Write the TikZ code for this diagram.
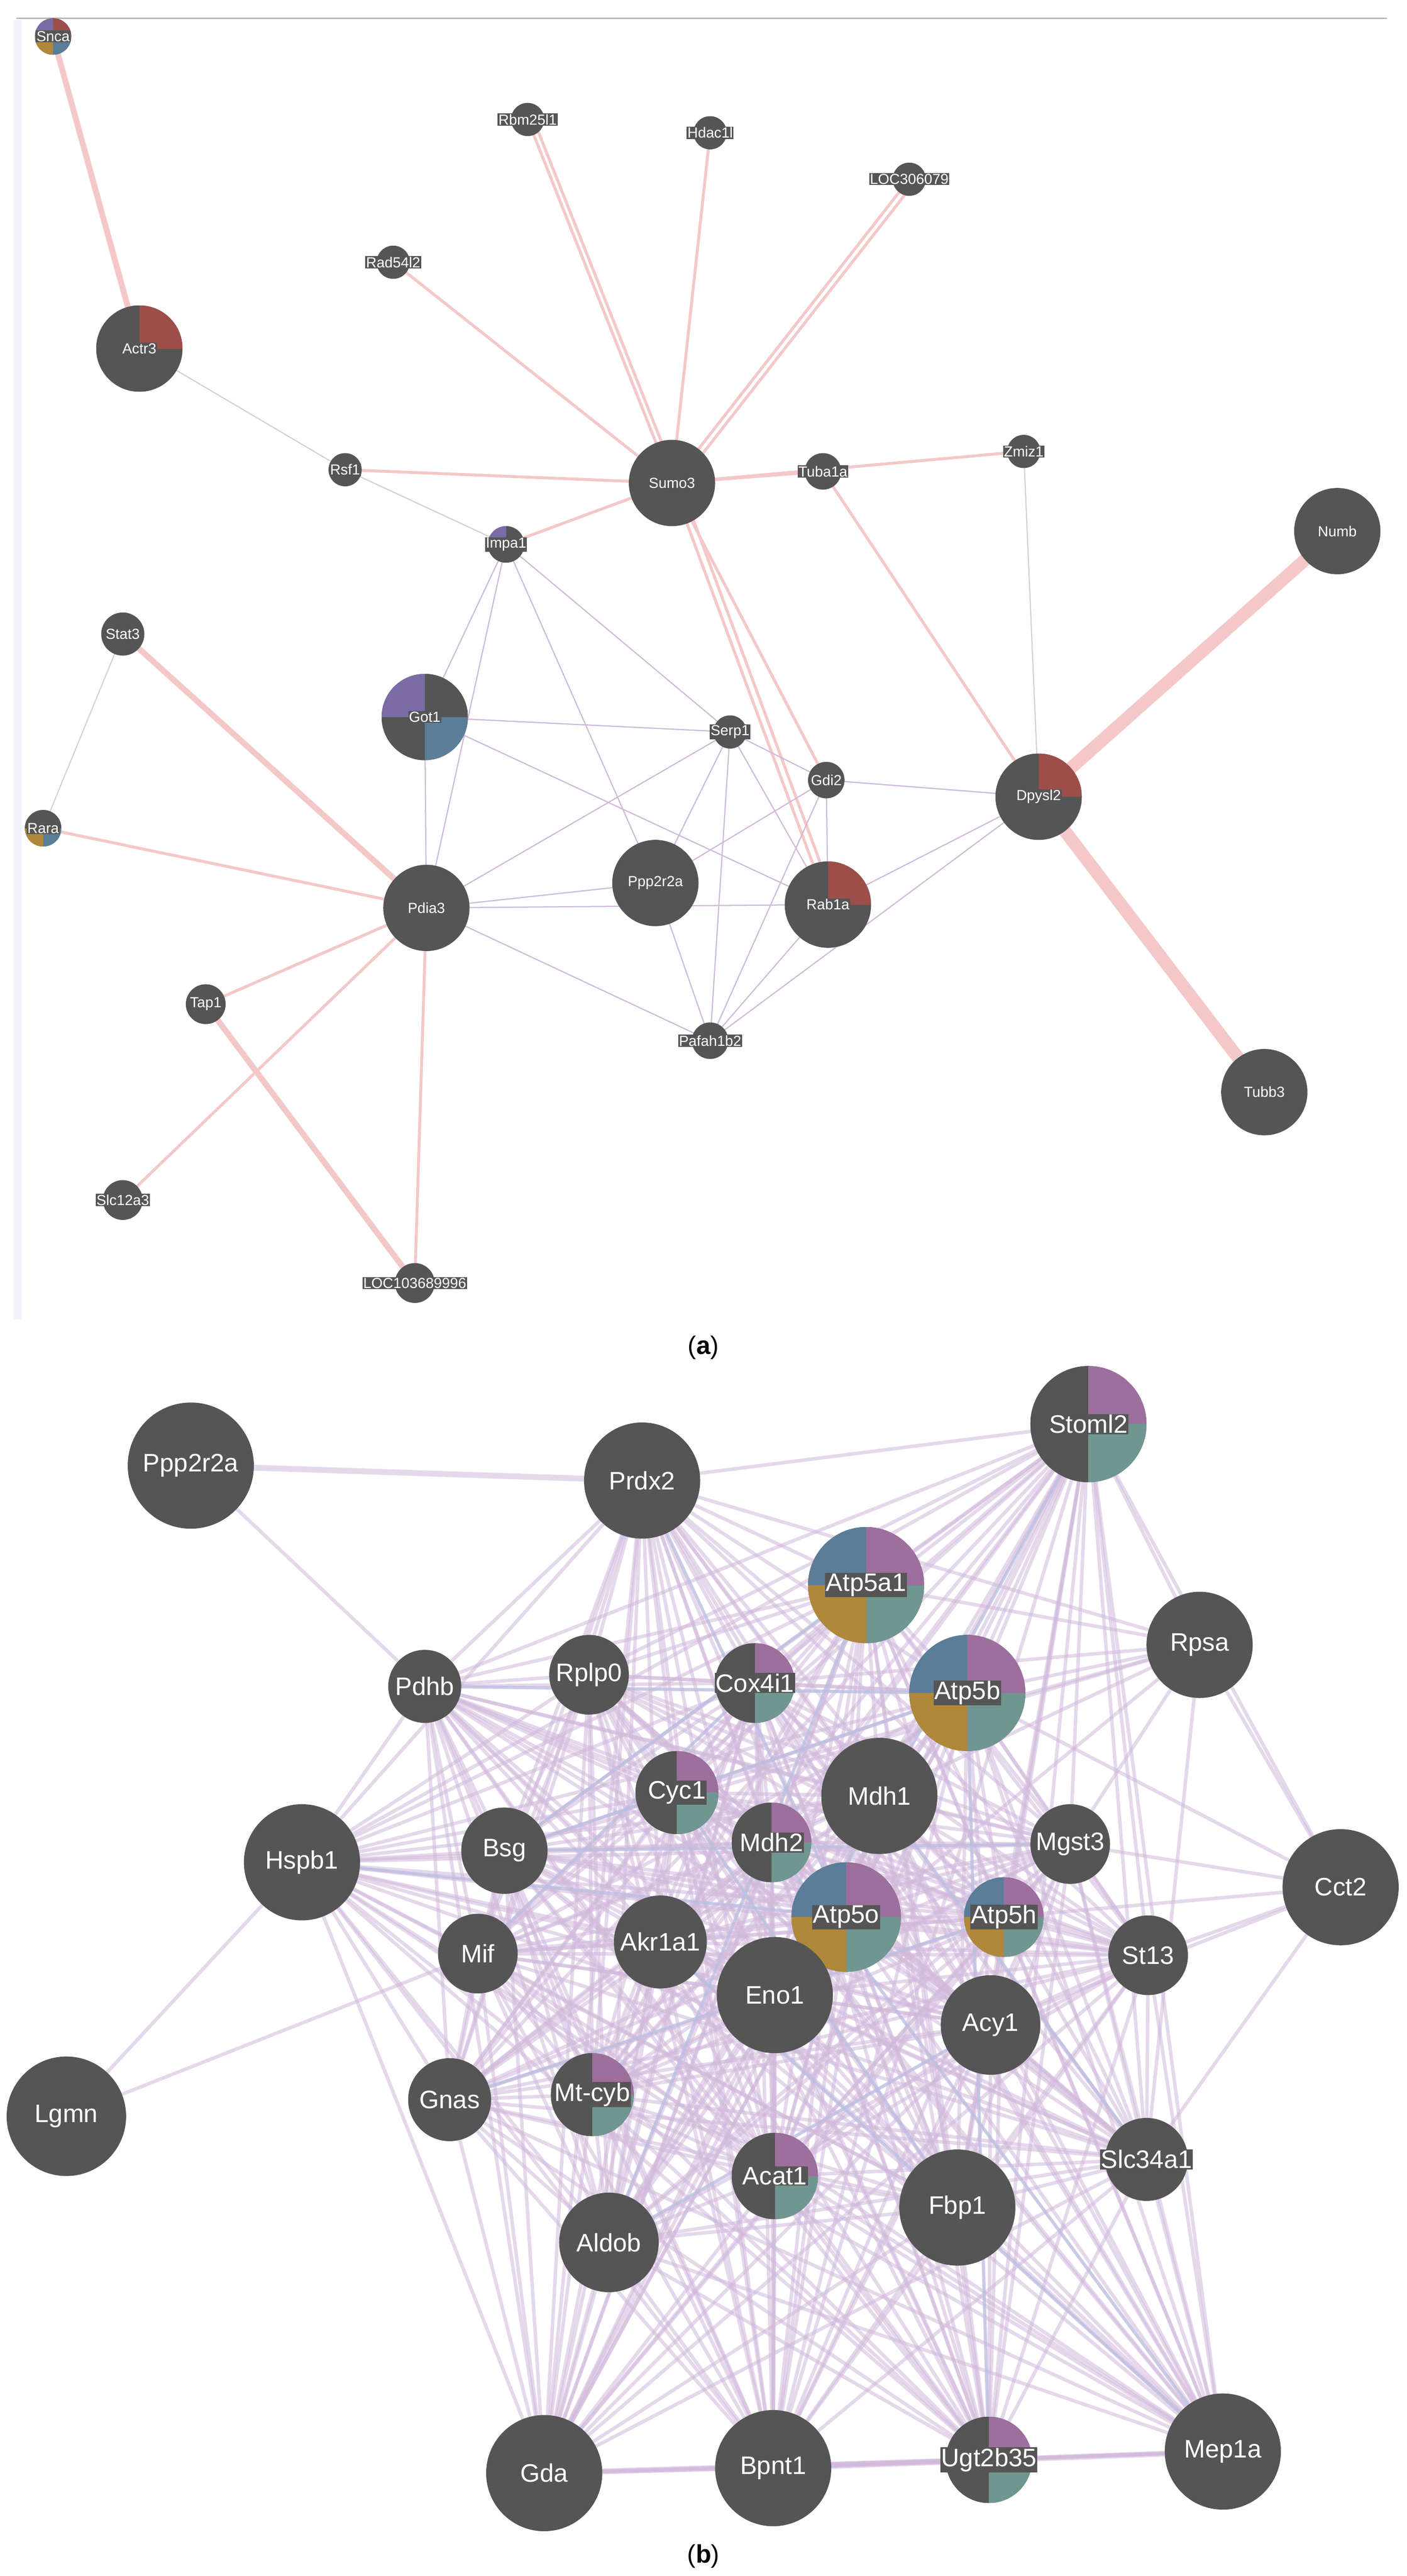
\documentclass[tikz,border=0pt]{standalone}
\usepackage{fontspec}
\setmainfont{Liberation Sans}
\pgfdeclarelayer{bg}
\pgfsetlayers{bg,main}
\definecolor{dk}{HTML}{555555}
\definecolor{rb}{HTML}{9E4E4A}
\definecolor{pu}{HTML}{9C6F9C}
\definecolor{te}{HTML}{6F9690}
\definecolor{bl}{HTML}{5A7D99}
\definecolor{go}{HTML}{B0883A}
\definecolor{vi}{HTML}{7B6BA6}
\definecolor{pk}{HTML}{F4C8C8}
\definecolor{lv}{HTML}{D0B8DA}
\definecolor{lb}{HTML}{B4C2E4}
\setlength{\fboxsep}{0.4pt}
\begin{document}
\begin{tikzpicture}[x=0.03cm,y=-0.03cm,
 g/.style={circle,fill=dk,minimum size=#1*0.6mm,inner sep=0,text=white,
   execute at begin node={\setbox0=\hbox\bgroup},
   execute at end node={\egroup\hbox to 0pt{\hss\colorbox{dk}{\box0}\hss}}},
 sa/.style={font=\fontsize{7.5}{8}\selectfont},
 sb/.style={font=\fontsize{13}{14}\selectfont},
 pie/.style n args={4}{path picture={
   \fill[#1] (path picture bounding box.center) rectangle (path picture bounding box.north east);
   \fill[#2] (path picture bounding box.center) rectangle (path picture bounding box.south east);
   \fill[#3] (path picture bounding box.center) rectangle (path picture bounding box.south west);
   \fill[#4] (path picture bounding box.center) rectangle (path picture bounding box.north west);}},
 pk1/.style={draw=pk,line width=1.5pt},
 pk2/.style={draw=pk,line width=3pt},
 pk3/.style={draw=pk,line width=6.5pt},
 gl/.style={draw=gray!35,line width=0.6pt},
 lv1/.style={draw=lv,line width=0.6pt},
 eb/.style={draw=lv,line width=1.8pt,draw opacity=0.55},
 ebb/.style={draw=lb,line width=1.4pt,draw opacity=0.6}]
\useasboundingbox (0,0) rectangle (848,1552);
\draw[gray!55,line width=0.8pt] (10,11) -- (836,11);
\fill[blue!5] (8,12) rectangle (13,795);
% ---------- panel a nodes
\node[g=11,sa,pie={rb}{bl}{go}{vi}] (Snca) at (32,22) {Snca};
\node[g=10,sa] (Rbm) at (318,72) {Rbm25l1};
\node[g=10,sa] (Hdac) at (428,80) {Hdac1l};
\node[g=10,sa] (LOCa) at (548,108) {LOC306079};
\node[g=10,sa] (Rad) at (237,158) {Rad54l2};
\node[g=26,sa,pie={rb}{dk}{dk}{dk}] (Actr3) at (84,210) {Actr3};
\node[g=10,sa] (Rsf1) at (208,283) {Rsf1};
\node[g=26,sa] (Sumo3) at (405,291) {Sumo3};
\node[g=11,sa] (Tuba) at (496,284) {Tuba1a};
\node[g=10,sa] (Zmiz) at (617,272) {Zmiz1};
\node[g=26,sa] (Numb) at (806,320) {Numb};
\node[g=11,sa,pie={dk}{dk}{dk}{vi}] (Impa) at (305,328) {Impa1};
\node[g=13,sa] (Stat3) at (74,382) {Stat3};
\node[g=26,sa,pie={dk}{bl}{dk}{vi}] (Got1) at (256,432) {Got1};
\node[g=10,sa] (Serp) at (440,441) {Serp1};
\node[g=11,sa] (Gdi2) at (498,470) {Gdi2};
\node[g=26,sa,pie={rb}{dk}{dk}{dk}] (Dpy) at (626,480) {Dpysl2};
\node[g=11,sa,pie={dk}{bl}{go}{dk}] (Rara) at (26,499) {Rara};
\node[g=26,sa] (PppA) at (395,532) {Ppp2r2a};
\node[g=26,sa] (Pdia3) at (257,547) {Pdia3};
\node[g=26,sa,pie={rb}{dk}{dk}{dk}] (Rab1a) at (499,545) {Rab1a};
\node[g=12,sa] (Tap1) at (124,605) {Tap1};
\node[g=11,sa] (Pafah) at (428,627) {Pafah1b2};
\node[g=26,sa] (Tubb3) at (762,658) {Tubb3};
\node[g=12,sa] (Slc12) at (74,723) {Slc12a3};
\node[g=12,sa] (LOCb) at (250,773) {LOC103689996};
\node[font=\fontsize{13}{14}\selectfont] (la) at (424,812) {(\textbf{a})};
\begin{pgfonlayer}{bg}
\draw[pk2] (Snca.center) -- (Actr3.center);
\foreach \n in {Rbm,Hdac,LOCa,Rad,Rsf1,Tuba,Zmiz,Impa,Rab1a,Gdi2}
  \draw[pk1] (Sumo3.center) -- (\n.center);
\draw[pk1] ([xshift=3]Sumo3.center) -- ([xshift=3]Rbm.center);
\draw[pk1] ([xshift=4]Sumo3.center) -- ([xshift=4]LOCa.center);
\draw[pk1] ([xshift=4]Sumo3.center) -- ([xshift=4]Rab1a.center);
\draw[pk1] (Tuba.center) -- (Dpy.center);
\draw[pk3] (Dpy.center) -- (Numb.center);
\draw[pk3] (Dpy.center) -- (Tubb3.center);
\draw[pk2] (Stat3.center) -- (Pdia3.center);
\draw[pk1] (Rara.center) -- (Pdia3.center);
\draw[pk1] (Pdia3.center) -- (Tap1.center);
\draw[pk1] (Pdia3.center) -- (Slc12.center);
\draw[pk1] (Pdia3.center) -- (LOCb.center);
\draw[pk2] (Tap1.center) -- (LOCb.center);
\draw[gl] (Actr3.center) -- (Rsf1.center);
\draw[gl] (Stat3.center) -- (Rara.center);
\draw[gl] (Zmiz.center) -- (Dpy.center);
\draw[gl] (Rsf1.center) -- (Impa.center);
\foreach \a/\b in {Impa/Got1,Impa/Pdia3,Impa/PppA,Impa/Serp,Got1/Serp,Got1/Pdia3,Got1/Rab1a,
  Pdia3/PppA,Pdia3/Rab1a,Pdia3/Pafah,Serp/Rab1a,Serp/Pafah,Gdi2/Pafah,Gdi2/Dpy,Gdi2/Rab1a,
  PppA/Pafah,Rab1a/Pafah,Dpy/Pafah,Dpy/Rab1a,Serp/PppA,Serp/Gdi2,Gdi2/PppA,Pdia3/Serp}
  \draw[lv1] (\a.center) -- (\b.center);
\end{pgfonlayer}
% ---------- panel b nodes
\node[g=38,sb] (bPpp) at (115,883) {Ppp2r2a};
\node[g=35,sb] (Prdx2) at (387,892) {Prdx2};
\node[g=35,sb,pie={pu}{te}{dk}{dk}] (Stoml2) at (656,858) {Stoml2};
\node[g=35,sb,pie={pu}{te}{go}{bl}] (Atp5a1) at (522,955) {Atp5a1};
\node[g=32,sb] (Rpsa) at (723,991) {Rpsa};
\node[g=22,sb] (Pdhb) at (256,1016) {Pdhb};
\node[g=24,sb] (Rplp0) at (355,1009) {Rplp0};
\node[g=24,sb,pie={pu}{te}{dk}{dk}] (Cox4i1) at (455,1014) {Cox4i1};
\node[g=35,sb,pie={pu}{te}{go}{bl}] (Atp5b) at (583,1020) {Atp5b};
\node[g=25,sb,pie={pu}{te}{dk}{dk}] (Cyc1) at (408,1080) {Cyc1};
\node[g=35,sb] (Mdh1) at (530,1082) {Mdh1};
\node[g=35,sb] (Hspb1) at (182,1122) {Hspb1};
\node[g=26,sb] (Bsg) at (304,1115) {Bsg};
\node[g=24,sb,pie={pu}{te}{dk}{dk}] (Mdh2) at (465,1110) {Mdh2};
\node[g=24,sb] (Mgst3) at (645,1111) {Mgst3};
\node[g=35,sb] (Cct2) at (808,1137) {Cct2};
\node[g=33,sb,pie={pu}{te}{go}{bl}] (Atp5o) at (510,1155) {Atp5o};
\node[g=24,sb,pie={pu}{te}{go}{bl}] (Atp5h) at (605,1155) {Atp5h};
\node[g=28,sb] (Akr1a1) at (398,1170) {Akr1a1};
\node[g=24,sb] (Mif) at (288,1177) {Mif};
\node[g=35,sb] (Eno1) at (467,1202) {Eno1};
\node[g=24,sb] (St13) at (692,1178) {St13};
\node[g=30,sb] (Acy1) at (597,1220) {Acy1};
\node[g=36,sb] (Lgmn) at (40,1275) {Lgmn};
\node[g=25,sb,pie={pu}{te}{dk}{dk}] (Mtcyb) at (357,1262) {Mt-cyb};
\node[g=25,sb] (Gnas) at (271,1265) {Gnas};
\node[g=25,sb] (Slc34a1) at (691,1301) {Slc34a1};
\node[g=26,sb,pie={pu}{te}{dk}{dk}] (Acat1) at (467,1311) {Acat1};
\node[g=35,sb] (Fbp1) at (577,1330) {Fbp1};
\node[g=30,sb] (Aldob) at (367,1351) {Aldob};
\node[g=35,sb] (Gda) at (328,1490) {Gda};
\node[g=35,sb] (Bpnt1) at (466,1487) {Bpnt1};
\node[g=26,sb,pie={pu}{te}{dk}{dk}] (Ugt) at (596,1482) {Ugt2b35};
\node[g=35,sb] (Mep1a) at (737,1477) {Mep1a};
\node[font=\fontsize{13}{14}\selectfont] (lb) at (424,1540) {(\textbf{b})};
\begin{pgfonlayer}{bg}
\foreach \a [count=\i] in {Prdx2,Stoml2,Atp5a1,Pdhb,Rplp0,Cox4i1,Atp5b,Cyc1,Mdh1,Hspb1,Bsg,Mdh2,Mgst3,Atp5o,Atp5h,Akr1a1,Mif,Eno1,St13,Acy1,Mtcyb,Gnas,Slc34a1,Acat1,Fbp1,Aldob,Gda,Bpnt1,Ugt,Mep1a}{
 \foreach \b [count=\j] in {Prdx2,Stoml2,Atp5a1,Pdhb,Rplp0,Cox4i1,Atp5b,Cyc1,Mdh1,Hspb1,Bsg,Mdh2,Mgst3,Atp5o,Atp5h,Akr1a1,Mif,Eno1,St13,Acy1,Mtcyb,Gnas,Slc34a1,Acat1,Fbp1,Aldob,Gda,Bpnt1,Ugt,Mep1a}{
  \ifnum\j>\i \draw[eb] (\a.center) -- (\b.center); \fi }}
\foreach \a/\b in {Atp5a1/Bsg,Atp5b/Pdhb,Cox4i1/Mif,Atp5o/Hspb1,Mdh1/Slc34a1,Atp5a1/Aldob,Cyc1/Fbp1,
  Atp5b/Ugt,Mdh2/Mep1a,Eno1/Stoml2,Atp5h/Gnas,Bsg/Mgst3,Prdx2/Atp5o,Akr1a1/Mep1a,Acy1/Aldob,Atp5b/Bsg}
  \draw[ebb] (\a.center) -- (\b.center);
\draw[eb,line width=3pt] (bPpp.center) -- (Prdx2.center);
\draw[eb] (bPpp.center) -- (Pdhb.center);
\draw[eb] (Lgmn.center) -- (Hspb1.center);
\draw[eb] (Lgmn.center) -- (Mif.center);
\foreach \n in {Stoml2,Rpsa,Mgst3,St13,Slc34a1,Atp5b,Atp5h,Acy1} \draw[eb] (Cct2.center) -- (\n.center);
\foreach \n in {Stoml2,Atp5a1,Atp5b,Mdh1,Cox4i1,Prdx2,Mgst3,Eno1,Slc34a1,Bsg,Cyc1} \draw[eb] (Rpsa.center) -- (\n.center);
\draw[eb,line width=3pt] (Gda.center) -- (Ugt.center);
\draw[eb,line width=3pt] (Bpnt1.center) -- (Mep1a.center);
\end{pgfonlayer}
\end{tikzpicture}
\end{document}
